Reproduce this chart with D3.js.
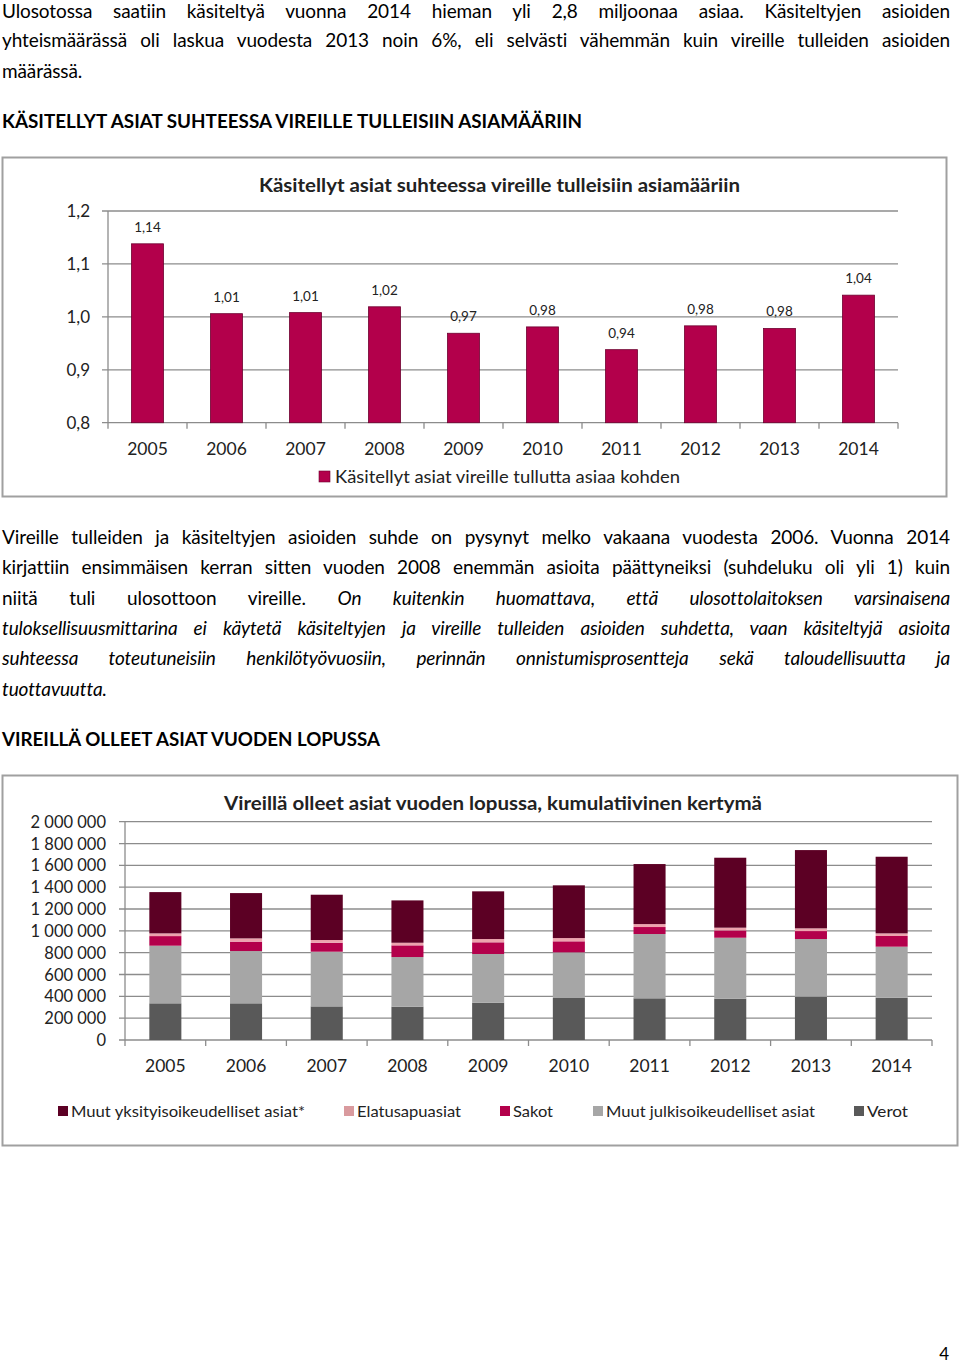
<!DOCTYPE html>
<html><head><meta charset="utf-8">
<script src="https://cdn.jsdelivr.net/npm/d3@7"></script>
<style>
body{margin:0;background:#fff;font-family:Lato,"Open Sans",sans-serif;color:#000}
#page{position:relative;width:960px;height:1364px;overflow:hidden}
#svg{position:absolute;left:0;top:0}
.line{position:absolute;left:2px;width:948px;font-size:19px;line-height:22px;text-align:justify;text-align-last:justify;letter-spacing:-0.1px}
.line.last{text-align-last:left}
i{font-style:italic}
</style></head>
<body><div id="page"><svg id="svg" width="960" height="1364"></svg></div>
<script>
// ---------- DATA ----------
const years = ["2005","2006","2007","2008","2009","2010","2011","2012","2013","2014"];
const ratio = [1.138, 1.006, 1.008, 1.019, 0.969, 0.981, 0.938, 0.983, 0.978, 1.041];
const ratioTicks = [0.8, 0.9, 1.0, 1.1, 1.2];
const verot    = [336000, 336000, 308000, 305000, 342000, 385000, 382000, 379000, 397000, 388000];
const muutJulk = [528000, 479000, 501000, 455000, 446000, 418000, 589000, 558000, 528000, 467000];
const sakot    = [ 88000,  86000,  82000, 107000, 107000, 101000,  64000,  67000,  73000,  98000];
const elatus   = [ 25000,  30000,  25000,  24000,  30000,  30000,  27000,  25000,  25000,  24000];
const muutYks  = [378000, 415000, 415000, 388000, 437000, 483000, 550000, 641000, 717000, 702000];
const pendingTicks = [0,200000,400000,600000,800000,1000000,1200000,1400000,1600000,1800000,2000000];
const seriesNames = ["Verot","Muut julkisoikeudelliset asiat","Sakot","Elatusapuasiat","Muut yksityisoikeudelliset asiat*"];
const legendOrder = ["Muut yksityisoikeudelliset asiat*","Elatusapuasiat","Sakot","Muut julkisoikeudelliset asiat","Verot"];

const colors = {
  "Verot":"#595959",
  "Muut julkisoikeudelliset asiat":"#a6a6a6",
  "Sakot":"#b3004b",
  "Elatusapuasiat":"#eda3ae",
  "Muut yksityisoikeudelliset asiat*":"#5c0024"
};
const legendColors = Object.assign({}, colors, {"Elatusapuasiat":"#d99a9e"});

// ---------- TEXT ----------
const page = d3.select("#page");
const para1 = [
  {t:"Ulosotossa saatiin käsiteltyä vuonna 2014 hieman yli 2,8 miljoonaa asiaa. Käsiteltyjen asioiden", top:0},
  {t:"yhteismäärässä oli laskua vuodesta 2013 noin 6%, eli selvästi vähemmän kuin vireille tulleiden asioiden", top:29},
  {t:"määrässä.", top:60, last:true}
];
const para2 = [
  {h:"Vireille tulleiden ja käsiteltyjen asioiden suhde on pysynyt melko vakaana vuodesta 2006. Vuonna 2014", top:526},
  {h:"kirjattiin ensimmäisen kerran sitten vuoden 2008 enemmän asioita päättyneiksi (suhdeluku oli yli 1) kuin", top:556},
  {h:"niitä tuli ulosottoon vireille. <i>On kuitenkin huomattava, että ulosottolaitoksen varsinaisena</i>", top:587},
  {h:"<i>tuloksellisuusmittarina ei käytetä käsiteltyjen ja vireille tulleiden asioiden suhdetta, vaan käsiteltyjä asioita</i>", top:617},
  {h:"<i>suhteessa toteutuneisiin henkilötyövuosiin, perinnän onnistumisprosentteja sekä taloudellisuutta ja</i>", top:647},
  {h:"<i>tuottavuutta.</i>", top:678, last:true}
];
para1.forEach(p=>page.append("div").attr("class","line"+(p.last?" last":"")).style("top",p.top+"px").text(p.t));
para2.forEach(p=>page.append("div").attr("class","line"+(p.last?" last":"")).style("top",p.top+"px").html(p.h));

const svg = d3.select("#svg");
function fitText(sel, len){ sel.attr("textLength",len).attr("lengthAdjust","spacingAndGlyphs"); return sel; }

// headings
fitText(svg.append("text").attr("x",2).attr("y",128).attr("font-size",19).attr("font-weight","bold")
  .text("KÄSITELLYT ASIAT SUHTEESSA VIREILLE TULLEISIIN ASIAMÄÄRIIN"),580);
fitText(svg.append("text").attr("x",2).attr("y",746).attr("font-size",19).attr("font-weight","bold")
  .text("VIREILLÄ OLLEET ASIAT VUODEN LOPUSSA"),378);

const fmt = d3.formatLocale({decimal:",",thousands:"\u00a0",grouping:[3],currency:["",""]});

// ---------- CHART 1 ----------
{
  const g = svg.append("g");
  g.append("rect").attr("x",2.5).attr("y",157.5).attr("width",944).attr("height",339)
    .attr("fill","#fff").attr("stroke","#a0a0a0").attr("stroke-width",2);
  const x = d3.scaleBand().domain(years).range([108,898]).paddingInner(0.595).paddingOuter(0.2975);
  const y = d3.scaleLinear().domain([0.8,1.2]).range([422.7,211]);
  g.selectAll(".grid").data(ratioTicks).join("line")
    .attr("x1",102).attr("x2",898).attr("y1",d=>y(d)).attr("y2",d=>y(d))
    .attr("stroke","#8c8c8c").attr("stroke-width",1.3);
  g.append("line").attr("x1",108).attr("x2",108).attr("y1",y(1.2)).attr("y2",y(0.8)).attr("stroke","#8c8c8c").attr("stroke-width",1.3);
  const off = (x.step()-x.bandwidth())/2;
  const bounds = years.map(d=>x(d)-off).concat([x(years[years.length-1])+x.bandwidth()+off]);
  g.selectAll(".xt").data(bounds).join("line").attr("x1",d=>d).attr("x2",d=>d)
    .attr("y1",y(0.8)).attr("y2",y(0.8)+6).attr("stroke","#8c8c8c").attr("stroke-width",1.3);
  g.selectAll(".yl").data(ratioTicks).join("text")
    .attr("x",90).attr("y",d=>y(d)+6).attr("text-anchor","end").attr("font-size",17).attr("fill","#222")
    .text(d=>fmt.format(".1f")(d));
  g.selectAll(".bar").data(years).join("rect")
    .attr("x",d=>x(d)).attr("width",x.bandwidth())
    .attr("y",(d,i)=>y(ratio[i])).attr("height",(d,i)=>y(0.8)-y(ratio[i]))
    .attr("fill","#b3004b").attr("stroke","#6e0030").attr("stroke-width",0.8);
  g.selectAll(".dl").data(years).join("text")
    .attr("x",d=>x(d)+x.bandwidth()/2).attr("y",(d,i)=>y(ratio[i])-12)
    .attr("text-anchor","middle").attr("font-size",13.5).attr("fill","#222")
    .text((d,i)=>fmt.format(".2f")(ratio[i]));
  g.selectAll(".xl").data(years).join("text")
    .attr("x",d=>x(d)+x.bandwidth()/2).attr("y",455).attr("text-anchor","middle")
    .attr("font-size",17.5).attr("fill","#222").text(d=>d);
  fitText(g.append("text").attr("x",259).attr("y",192).attr("font-size",19).attr("font-weight","bold").attr("fill","#222")
    .text("Käsitellyt asiat suhteessa vireille tulleisiin asiamääriin"),481);
  g.append("rect").attr("x",319).attr("y",471).attr("width",11).attr("height",11).attr("fill","#b3004b").attr("stroke","#6e0030").attr("stroke-width",0.6);
  fitText(g.append("text").attr("x",335).attr("y",483).attr("font-size",17).attr("fill","#222")
    .text("Käsitellyt asiat vireille tullutta asiaa kohden"),345);
}

// ---------- CHART 2 ----------
{
  const g = svg.append("g");
  g.append("rect").attr("x",2.5).attr("y",775.5).attr("width",955).attr("height",370)
    .attr("fill","#fff").attr("stroke","#a0a0a0").attr("stroke-width",2);
  const x = d3.scaleBand().domain(years).range([125,932]).paddingInner(0.603).paddingOuter(0.3015);
  const y = d3.scaleLinear().domain([0,2000000]).range([1040,821.7]);
  const rows = years.map((yr,i)=>({year:yr,
    "Verot":verot[i],"Muut julkisoikeudelliset asiat":muutJulk[i],"Sakot":sakot[i],
    "Elatusapuasiat":elatus[i],"Muut yksityisoikeudelliset asiat*":muutYks[i]}));
  const stack = d3.stack().keys(seriesNames)(rows);
  g.selectAll(".grid").data(pendingTicks).join("line")
    .attr("x1",119).attr("x2",932).attr("y1",d=>y(d)).attr("y2",d=>y(d))
    .attr("stroke","#8c8c8c").attr("stroke-width",1.3);
  g.append("line").attr("x1",125).attr("x2",125).attr("y1",y(2000000)).attr("y2",y(0)).attr("stroke","#8c8c8c").attr("stroke-width",1.3);
  const off = (x.step()-x.bandwidth())/2;
  const bounds = years.map(d=>x(d)-off).concat([x(years[years.length-1])+x.bandwidth()+off]);
  g.selectAll(".xt").data(bounds).join("line").attr("x1",d=>d).attr("x2",d=>d)
    .attr("y1",y(0)).attr("y2",y(0)+6).attr("stroke","#8c8c8c").attr("stroke-width",1.3);
  g.selectAll(".yl").data(pendingTicks).join("text")
    .attr("x",106).attr("y",d=>y(d)+6).attr("text-anchor","end").attr("font-size",16.5).attr("fill","#222")
    .text(d=>fmt.format(",")(d));
  g.selectAll(".ser").data(stack).join("g").attr("fill",s=>colors[s.key])
    .selectAll("rect").data(s=>s).join("rect")
    .attr("x",d=>x(d.data.year)).attr("width",x.bandwidth())
    .attr("y",d=>y(d[1])).attr("height",d=>y(d[0])-y(d[1]));
  g.selectAll(".xl").data(years).join("text")
    .attr("x",d=>x(d)+x.bandwidth()/2).attr("y",1072).attr("text-anchor","middle")
    .attr("font-size",17.5).attr("fill","#222").text(d=>d);
  fitText(g.append("text").attr("x",224).attr("y",810).attr("font-size",19).attr("font-weight","bold").attr("fill","#222")
    .text("Vireillä olleet asiat vuoden lopussa, kumulatiivinen kertymä"),538);
  const legX = [58,344,500,593,854];
  const legW = [234,104,40,209,41];
  legendOrder.forEach((k,i)=>{
    g.append("rect").attr("x",legX[i]).attr("y",1106).attr("width",10).attr("height",10).attr("fill",legendColors[k]);
    fitText(g.append("text").attr("x",legX[i]+13).attr("y",1117).attr("font-size",16).attr("fill","#222").text(k),legW[i]);
  });
}
svg.append("text").attr("x",949).attr("y",1360).attr("text-anchor","end").attr("font-size",17).text("4");
</script></body></html>
